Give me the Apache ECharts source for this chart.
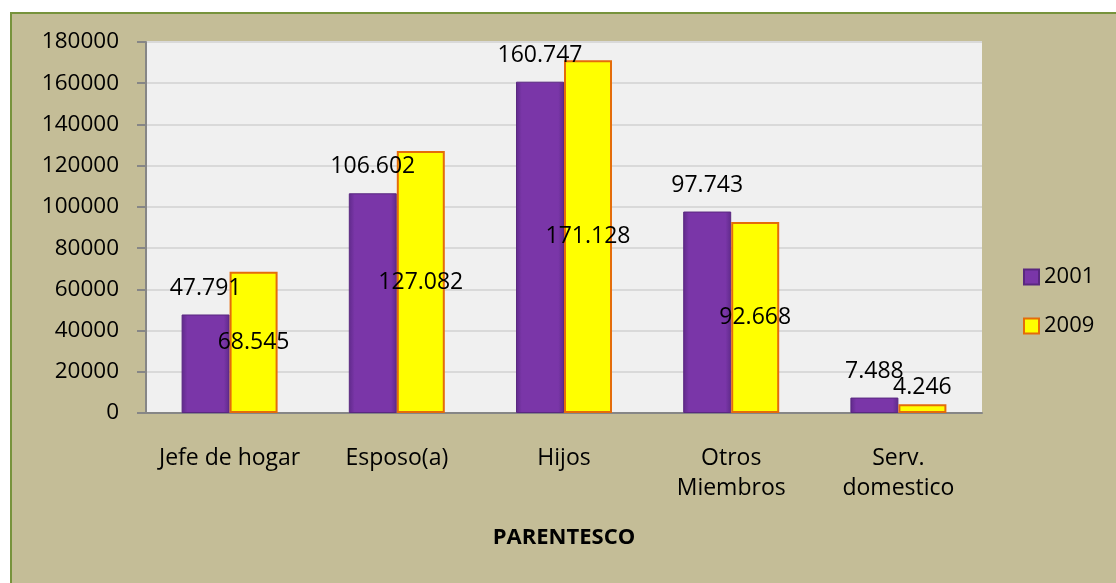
<!DOCTYPE html>
<html>
<head>
<meta charset="utf-8">
<script src="https://cdn.jsdelivr.net/npm/echarts@6/dist/echarts.min.js"></script>
<style>
  html, body { margin: 0; padding: 0; background: #ffffff; }
  #frame {
    position: absolute; left: 10px; top: 12px; width: 1120px; height: 600px;
    background: #c4bd97; border-left: 2px solid #77933c; border-top: 2px solid #77933c;
  }
  #chart { position: absolute; left: 0; top: 0; width: 1116px; height: 583px; }
</style>
</head>
<body>
<div id="frame"></div>
<div id="chart"></div>
<script>
const categories = ["Jefe de hogar", "Esposo(a)", "Hijos", "Otros\nMiembros", "Serv.\ndomestico"];
const values2001 = [47791, 106602, 160747, 97743, 7488];
const values2009 = [68545, 127082, 171128, 92668, 4246];
const seriesNames = ["2001", "2009"];

const fontFamily = "'Open Sans', sans-serif";
const fmt = v => String(v).replace(/\B(?=(\d{3})+(?!\d))/g, ".");

const purple = new echarts.graphic.LinearGradient(0, 0, 1, 0, [
  { offset: 0, color: "#5f2a8a" },
  { offset: 0.12, color: "#7a36a8" },
  { offset: 0.88, color: "#7a36a8" },
  { offset: 1, color: "#5f2a8a" }
]);

const chart = echarts.init(document.getElementById("chart"));
chart.setOption({
  backgroundColor: "transparent",
  textStyle: { fontFamily: fontFamily },
  grid: {
    show: true,
    left: 146,
    right: 134,
    top: 42,
    bottom: 170,
    backgroundColor: "#f0f0f0",
    borderWidth: 0
  },
  legend: {
    orient: "vertical",
    left: 1018,
    top: 261,
    icon: "rect",
    itemWidth: 15,
    itemHeight: 15,
    itemGap: 27,
    textStyle: { fontSize: 22, color: "#000", fontFamily: fontFamily },
    data: seriesNames
  },
  xAxis: {
    type: "category",
    data: categories,
    axisLine: { lineStyle: { color: "#868686", width: 2 } },
    axisTick: { show: false },
    axisLabel: {
      interval: 0,
      fontSize: 23,
      color: "#000",
      margin: 30,
      lineHeight: 30,
      fontFamily: fontFamily
    },
    name: "PARENTESCO",
    nameLocation: "middle",
    nameGap: 114,
    nameTextStyle: { fontSize: 22, fontWeight: "bold", color: "#000", fontFamily: fontFamily }
  },
  yAxis: {
    type: "value",
    min: 0,
    max: 180000,
    interval: 20000,
    axisLine: { show: true, lineStyle: { color: "#868686", width: 2 } },
    axisTick: { show: true, length: 9, lineStyle: { color: "#868686", width: 2 } },
    splitLine: { lineStyle: { color: "#d9d9d9", width: 2 } },
    axisLabel: { fontSize: 22.5, color: "#000", margin: 27, fontFamily: fontFamily, formatter: v => String(v) }
  },
  series: [
    {
      name: seriesNames[0],
      type: "bar",
      data: values2001,
      barWidth: 48,
      barGap: "0%",
      itemStyle: { color: purple, borderColor: "#5a2880", borderWidth: 1 },
      label: {
        show: true,
        position: "top",
        distance: 15,
        fontSize: 23,
        color: "#000",
        formatter: p => fmt(p.value)
      }
    },
    {
      name: seriesNames[1],
      type: "bar",
      data: values2009.map((v, i) => i === values2009.length - 1
        ? { value: v, label: { position: "top", distance: 5 } }
        : v),
      barWidth: 48,
      itemStyle: { color: "#ffff00", borderColor: "#e46c0a", borderWidth: 2 },
      label: {
        show: true,
        position: "inside",
        fontSize: 23,
        color: "#000",
        formatter: p => fmt(p.value)
      }
    }
  ]
});
</script>
</body>
</html>
